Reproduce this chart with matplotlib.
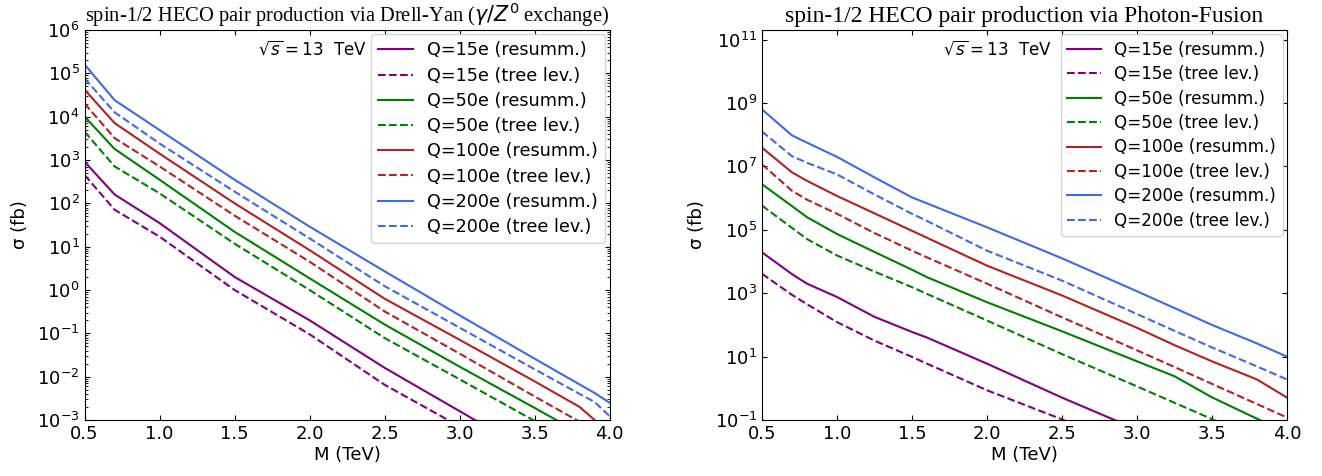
import matplotlib
matplotlib.use("Agg")
from matplotlib import pyplot as plt
from matplotlib.ticker import LogLocator, NullLocator

# Drell-Yan panel, sigma in fb
M_dy = [0.5, 0.7, 1.0, 1.5, 2.0, 2.5, 3.0, 3.5, 3.8, 3.9, 4.0]
dy_q15_res = [9.1e2, 1.6e2, 35, 2.0, 0.2, 1.6e-2, 1.6e-3, 1.6e-4, 4.0e-5, 2.5e-5, 1.6e-5]
dy_q15_tree = [4.5e2, 71, 17, 1.0, 9.5e-2, 6.5e-3, 7.1e-4, 7.9e-5, 2.0e-5, 1.26e-5, 7.9e-6]
dy_q50_res = [1.0e4, 1.8e3, 3.5e2, 22, 1.86, 0.16, 1.7e-2, 1.9e-3, 5.0e-4, 3.2e-4, 2.0e-4]
dy_q50_tree = [4.5e3, 7.1e2, 1.7e2, 11.7, 1.0, 7.8e-2, 8.7e-3, 9.5e-4, 2.5e-4, 1.6e-4, 1.0e-4]
dy_q100_res = [4.2e4, 7.1e3, 1.4e3, 1.0e2, 8.3, 0.63, 7.1e-2, 7.8e-3, 2.0e-3, 1.0e-3, 4.0e-4]
dy_q100_tree = [2.0e4, 3.2e3, 7.1e2, 52, 4.5, 0.32, 3.4e-2, 3.5e-3, 9.1e-4, 5.0e-4, 2.5e-4]
dy_q200_res = [1.6e5, 2.4e4, 4.9e3, 3.5e2, 29, 2.7, 0.26, 2.6e-2, 6.6e-3, 4.2e-3, 2.5e-3]
dy_q200_tree = [7.6e4, 1.26e4, 2.4e3, 1.86e2, 15.5, 1.23, 0.135, 1.48e-2, 4.0e-3, 2.6e-3, 1.23e-3]

# Photon-fusion panel, sigma in fb
M_pf = [0.5, 0.7, 0.8, 1.0, 1.25, 1.5, 1.6, 2.0, 2.5, 3.0, 3.25, 3.5, 3.8, 4.0]
pf_q15_res = [1.95e4, 4.0e3, 2.0e3, 7.6e2, 1.8e2, 60, 40, 6.0, 0.51, 5.0e-2, 1.6e-2, 5.0e-3, 1.26e-3, 5.0e-4]
pf_q15_tree = [4.1e3, 8.9e2, 4.5e2, 1.23e2, 32, 9.8, 6.0, 0.87, 0.105, 1.0e-2, 3.2e-3, 1.0e-3, 2.5e-4, 1.0e-4]
pf_q50_res = [2.75e6, 5.6e5, 2.5e5, 7.4e4, 2.0e4, 5.5e3, 3.2e3, 5.2e2, 63, 7.1, 2.4, 0.52, 0.11, 0.04]
pf_q50_tree = [5.8e5, 1.15e5, 5.1e4, 1.55e4, 4.8e3, 1.55e3, 9.5e2, 1.38e2, 12, 1.15, 0.35, 0.107, 0.025, 0.01]
pf_q100_res = [3.9e7, 6.5e6, 3.5e6, 1.17e6, 3.3e5, 9.3e4, 5.6e4, 7.4e3, 8.5e2, 81, 23, 7.1, 1.9, 0.51]
pf_q100_tree = [1.17e7, 1.7e6, 8.9e5, 3.2e5, 7.9e4, 2.2e4, 1.35e4, 2.0e3, 1.74e2, 15.8, 4.7, 1.38, 0.32, 0.12]
pf_q200_res = [6.3e8, 9.5e7, 5.6e7, 2.0e7, 4.5e6, 1.05e6, 6.8e5, 1.2e5, 1.26e4, 1.15e3, 3.4e2, 1.0e2, 26, 10]
pf_q200_tree = [1.26e8, 2.1e7, 1.3e7, 5.6e6, 1.3e6, 3.2e5, 1.9e5, 2.2e4, 2.5e3, 2.2e2, 65, 19.5, 4.9, 1.9]

charges = ["15", "50", "100", "200"]
colors = ["purple", "green", "firebrick", "royalblue"]

dy_curves = [(dy_q15_res, dy_q15_tree), (dy_q50_res, dy_q50_tree),
             (dy_q100_res, dy_q100_tree), (dy_q200_res, dy_q200_tree)]
pf_curves = [(pf_q15_res, pf_q15_tree), (pf_q50_res, pf_q50_tree),
             (pf_q100_res, pf_q100_tree), (pf_q200_res, pf_q200_tree)]

fig, axes = plt.subplots(1, 2, figsize=(13.22, 4.76), dpi=100)
plt.subplots_adjust(left=0.064, right=0.9735, bottom=0.1176, top=0.937, wspace=0.29)

# ax, x, curves, title, title size, ylim, legend size, legend spacing, text x, ylabel pad
panels = [
    (axes[0], M_dy, dy_curves, "spin-1/2 HECO pair production via Drell-Yan ($\\gamma/Z^0$ exchange)",
     14.8, (1e-3, 1e6), 12.7, 0.41, 0.33, 6),
    (axes[1], M_pf, pf_curves, "spin-1/2 HECO pair production via Photon-Fusion",
     17, (1e-1, 2e11), 12.1, 0.38, 0.345, 6),
]

for ax, M, curves, title, tsize, ylim, legsize, legspace, textx, ypad in panels:
    for q, c, (res, tree) in zip(charges, colors, curves):
        ax.plot(M, res, color=c, ls="solid", lw=1.5, label="Q=%se (resumm.)" % q)
        ax.plot(M, tree, color=c, ls="dashed", lw=1.5, label="Q=%se (tree lev.)" % q)
    ax.set_yscale("log")
    ax.set_xlim(0.5, 4.0)
    ax.set_ylim(*ylim)
    ax.set_xticks([0.5, 1.0, 1.5, 2.0, 2.5, 3.0, 3.5, 4.0])
    ax.tick_params(which="both", direction="in", top=True, right=True, labelsize=13)
    ax.set_xlabel("M (TeV)", fontsize=13, labelpad=2)
    ax.set_ylabel("σ (fb)", fontsize=13, labelpad=ypad)
    ax.set_title(title, family="Liberation Serif", fontsize=tsize, pad=6)
    ax.text(textx, 0.975, "$\\sqrt{s}=13$  TeV", transform=ax.transAxes,
            ha="left", va="top", fontsize=12)
    ax.legend(loc="upper right", fontsize=legsize, labelspacing=legspace,
              borderaxespad=0.25)

axes[0].yaxis.set_major_locator(LogLocator(base=10, numticks=20))
axes[0].yaxis.set_minor_locator(LogLocator(base=10, subs=range(2, 10), numticks=20))
axes[1].set_yticks([1e-1, 1e1, 1e3, 1e5, 1e7, 1e9, 1e11])
axes[1].yaxis.set_minor_locator(NullLocator())
axes[1].set_ylim(1e-1, 2e11)

plt.savefig("out.png", dpi=100)
